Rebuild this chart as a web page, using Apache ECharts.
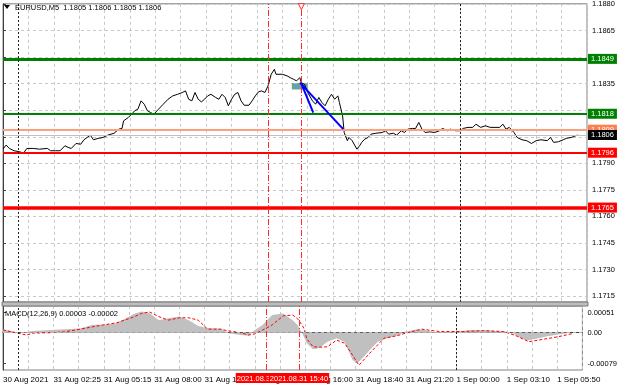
<!DOCTYPE html>
<html><head><meta charset="utf-8">
<script src="https://cdn.jsdelivr.net/npm/echarts@6/dist/echarts.min.js"></script>
<style>html,body{margin:0;padding:0;background:#fff}#c{width:620px;height:388px}</style>
</head><body><div id="c"></div>
<script>
// ---- data (x = 5-minute bar index from chart start) ----
const priceBars = [0,2,4,7,10,13,15,19,23,28,30,33,36,39,41,43,46,49,51,53,55,57,60,63,66,70,71,73,75,76,79,81,83,85,87,89,91,93,95,98,101,104,107,110,113,115,117,119,121,123,125,127,129,131,134,136,138,140,142,144,146,148,150,152,155,157,159,161,163,165,167,169,171,172,176,179,181,183,185,187,188,190,192,195,197,199,201,203,205,207,209,211,212,214,215,217,218,220,223,225,226,228,230,232,235,239,241,243,246,248,251,253,255,258,260,262,264,266,269,272,275,277,280,282,285,288,290,293,296,298,301,304,307,310,313,315,317,319,322,324,327,330,333,336,339,343,345,347,350,353,355,358,360,362];
const priceValues = [1.17981,1.18003,1.17984,1.17971,1.17966,1.17958,1.17984,1.17984,1.17980,1.17984,1.17971,1.17971,1.17971,1.17999,1.17990,1.17984,1.18012,1.18008,1.18033,1.18046,1.18059,1.18033,1.18041,1.18046,1.18059,1.18070,1.18059,1.18093,1.18097,1.18140,1.18159,1.18177,1.18197,1.18206,1.18253,1.18234,1.18197,1.18187,1.18177,1.18206,1.18234,1.18262,1.18281,1.18290,1.18300,1.18309,1.18262,1.18253,1.18300,1.18262,1.18247,1.18262,1.18281,1.18290,1.18272,1.18262,1.18290,1.18272,1.18225,1.18262,1.18290,1.18300,1.18253,1.18228,1.18228,1.18253,1.18281,1.18304,1.18309,1.18300,1.18337,1.18403,1.18431,1.18403,1.18403,1.18394,1.18384,1.18375,1.18366,1.18384,1.18356,1.18346,1.18300,1.18253,1.18234,1.18272,1.18243,1.18225,1.18262,1.18290,1.18262,1.18281,1.18243,1.18168,1.18074,1.18028,1.18046,1.18028,1.17980,1.18003,1.18018,1.18037,1.18046,1.18065,1.18070,1.18074,1.18084,1.18065,1.18070,1.18059,1.18084,1.18074,1.18093,1.18097,1.18097,1.18131,1.18093,1.18074,1.18078,1.18074,1.18084,1.18097,1.18084,1.18093,1.18084,1.18084,1.18097,1.18103,1.18103,1.18121,1.18103,1.18112,1.18103,1.18103,1.18103,1.18121,1.18093,1.18103,1.18074,1.18046,1.18033,1.18028,1.18012,1.18028,1.18033,1.18028,1.18046,1.18018,1.18022,1.18033,1.18041,1.18046,1.18052,1.18060];

const macdBars = [0,11,19,30,39,49,57,64,72,78,83,88,93,99,105,112,118,124,130,138,144,151,156,160,165,171,178,184,187,190,193,197,201,206,212,217,222,225,229,233,238,244,250,256,263,268,273,282,289,297,306,313,319,324,329,333,338,345,351,357,362];
const macdValues = [0.00009,-0.00001,0.00004,0.00007,0.00009,0.00011,0.00020,0.00020,0.00024,0.00037,0.00048,0.00054,0.00050,0.00032,0.00037,0.00041,0.00032,0.00017,0.00012,0.00011,-0.00002,-0.00006,-0.00008,0.00007,0.00020,0.00045,0.00049,0.00032,0.00020,-0.00001,-0.00027,-0.00042,-0.00039,-0.00023,-0.00014,-0.00024,-0.00070,-0.00078,-0.00062,-0.00044,-0.00023,-0.00014,-0.00008,0.00003,0.00009,0.00007,0.00002,0.00002,0.00003,0.00007,0.00007,0.00004,0.00003,-0.00002,-0.00014,-0.00020,-0.00016,-0.00010,-0.00006,-0.00002,0.00003];

const signalBars = [0,15,19,30,39,49,57,64,72,83,88,93,99,105,112,118,124,130,138,144,151,156,160,165,171,178,184,187,189,191,193,197,201,206,212,217,222,226,229,233,238,242,250,256,266,277,292,305,318,326,334,343,353,362];
const signalValues = [0.00007,-0.00006,-0.00001,0,0.00002,0.00009,0.00015,0.00020,0.00025,0.00040,0.00049,0.00053,0.00041,0.00032,0.00038,0.00038,0.00032,0.00009,0.00009,0.00004,0,-0.00006,-0.00003,0.00007,0.00020,0.00043,0.00045,0.00036,0.00025,0.00012,-0.00016,-0.00036,-0.00037,-0.00036,-0.00019,-0.00027,-0.00057,-0.00083,-0.00070,-0.00052,-0.00031,-0.00014,-0.00008,-0.00001,0.00009,0.00003,0.00003,0.00005,0.00003,-0.00008,-0.00023,-0.00017,-0.00010,-0.00002];

const priceTicks = [1.1715,1.1730,1.1745,1.1760,1.1775,1.1790,1.1805,1.1820,1.1835,1.1850,1.1865,1.1880];
const priceTickLabels = [1.1715,1.1730,1.1745,1.1760,1.1775,1.1790,1.1835,1.1865,1.1880];
const macdTicks = [-0.00079,0,0.00051];
const timeLabelBars = [0,32,64,96,128,160,192,224,256,288,320,352];
const timeLabelTexts = ['30 Aug 2021','31 Aug 02:25','31 Aug 05:15','31 Aug 08:00','31 Aug 10:45','31 Aug 13:25','31 Aug 16:00','31 Aug 18:40','31 Aug 21:20','1 Sep 00:00','1 Sep 03:10','1 Sep 05:50'];

const supportResistance = [1.1849,1.1818,1.1809,1.1796,1.1765];
const currentPrice = 1.1806;
const eventBars = [167,188];
const eventTexts = ['2021.08.31 13:55','2021.08.31 15:40'];
const separatorBars = [9.5,288];
const trendLineA = [[188.2,1.18346],[195.5,1.18187]];
const trendLineB = [[187.1,1.18356],[214.4,1.18093]];
const boxBars = [182,192];
const boxPrices = [1.18352,1.18317];
const headerText = 'EURUSD,M5  1.1805 1.1806 1.1805 1.1806';
const macdText = 'MACD(12,26,9) 0.00003 -0.00002';

// ---- styles ----
const FONT = '"Liberation Sans", Arial, sans-serif';
const levelStyles = [
  {line:'#008000', width:3, bg:'#008000'},
  {line:'#008000', width:2, bg:'#008000'},
  {line:'#ff9f7f', width:2, bg:'#ff7f50'},
  {line:'#ff0000', width:2, bg:'#ff0000'},
  {line:'#ff0000', width:3.5, bg:'#ff0000'}
];
const pairs = (xs, ys) => xs.map((x, i) => [x, ys[i]]);
const gridLine = {show:true, lineStyle:{color:'#c8c8c8', type:[3,3], width:1}};
const tagLabel = (txt, bg) => ({show:true, position:'end', formatter:txt, backgroundColor:bg, color:'#fff',
  padding:[1,3,0,3], lineHeight:9, fontSize:7.5, fontFamily:FONT, distance:1});

const priceMarkLines = supportResistance.map((v, i) => ({
  yAxis:v, lineStyle:{color:levelStyles[i].line, width:levelStyles[i].width, type:'solid'},
  label:tagLabel(v.toFixed(4), levelStyles[i].bg)
}));
priceMarkLines.push({yAxis:currentPrice, lineStyle:{color:'#c0c0c0', width:1, type:'solid'},
  label:tagLabel(currentPrice.toFixed(4), '#000000')});
eventBars.forEach(b => priceMarkLines.push({xAxis:b, lineStyle:{color:'#ff2a2a', width:1, type:[6,2,1,2]}, label:{show:false}}));
separatorBars.forEach(b => priceMarkLines.push({xAxis:b, lineStyle:{color:'#222', width:1, type:[2,2]}, label:{show:false}}));

const macdMarkLines = [{yAxis:0, lineStyle:{color:'#b8b8b8', width:1, type:[3,3]}, label:{show:false}}];
separatorBars.forEach(b => macdMarkLines.push({xAxis:b, lineStyle:{color:'#222', width:1, type:[2,2]}, label:{show:false}}));
eventBars.forEach((b, i) => macdMarkLines.push({xAxis:b, lineStyle:{color:'#ff2a2a', width:1, type:[6,2,1,2]},
  label:{show:true, position:'start', formatter:eventTexts[i], backgroundColor:'#ff0000', color:'#fff',
    padding:[1,1,0,1], lineHeight:9, fontSize:7.5, fontFamily:FONT, distance:3}}));

const chart = echarts.init(document.getElementById('c'), null, {renderer:'canvas'});
chart.setOption({
  animation:false,
  backgroundColor:'#ffffff',
  grid:[
    {left:3, top:3, width:584, height:299, show:true, borderColor:'#808080', borderWidth:1},
    {left:3, top:306, width:584, height:64, show:true, borderColor:'#808080', borderWidth:1}
  ],
  xAxis:[
    {gridIndex:0, type:'value', min:0, max:368, interval:16, axisLine:{show:false}, axisTick:{show:false},
     axisLabel:{show:false}, splitLine:gridLine},
    {gridIndex:1, type:'value', min:0, max:368, interval:16, axisLine:{show:true, lineStyle:{color:'#404040'}},
     axisTick:{show:false}, splitLine:gridLine,
     axisLabel:{show:true, interval:0, align:'left', margin:6, color:'#000', fontSize:8, fontFamily:FONT,
       hideOverlap:false, showMinLabel:true, showMaxLabel:true,
       formatter:v => { const i = timeLabelBars.indexOf(v); return i >= 0 ? timeLabelTexts[i] : ''; }}}
  ],
  yAxis:[
    {gridIndex:0, type:'value', position:'right', min:1.171166, max:1.188011, scale:true,
     axisLine:{show:true, lineStyle:{color:'#404040'}},
     axisTick:{show:true, length:3, customValues:priceTicks, lineStyle:{color:'#404040'}},
     axisLabel:{customValues:priceTickLabels, formatter:v => v.toFixed(4), margin:5, color:'#000', fontSize:7.5, fontFamily:FONT},
     splitLine:gridLine},
    {gridIndex:1, type:'value', position:'right', min:-0.000952, max:0.000681,
     axisLine:{show:true, lineStyle:{color:'#404040'}},
     axisTick:{show:true, length:3, customValues:macdTicks, lineStyle:{color:'#404040'}},
     axisLabel:{customValues:macdTicks, formatter:v => v === 0 ? '0.00' : v.toFixed(5), margin:5, color:'#000', fontSize:7.5, fontFamily:FONT},
     splitLine:{show:false}}
  ],
  series:[
    {type:'line', xAxisIndex:0, yAxisIndex:0, data:pairs(priceBars, priceValues), showSymbol:false, z:4,
     lineStyle:{color:'#000', width:1}, itemStyle:{color:'#000'},
     markLine:{silent:true, symbol:['none','none'], precision:6, animation:false, data:priceMarkLines},
     markPoint:{silent:true, symbol:'triangle', symbolRotate:180, symbolSize:[6,6],
       itemStyle:{color:'#ffffff', borderColor:'#ff2a2a', borderWidth:1},
       label:{show:false}, data:[{coord:[eventBars[1], 1.18785]}]},
     markArea:{silent:true, itemStyle:{color:'rgba(80,145,145,0.85)'},
       data:[[{coord:[boxBars[0], boxPrices[0]]},{coord:[boxBars[1], boxPrices[1]]}]]}},
    {type:'line', xAxisIndex:0, yAxisIndex:0, data:trendLineA, showSymbol:false, z:5, lineStyle:{color:'#0000ff', width:2}},
    {type:'line', xAxisIndex:0, yAxisIndex:0, data:trendLineB, showSymbol:false, z:5, lineStyle:{color:'#0000ff', width:2}},
    {type:'line', xAxisIndex:1, yAxisIndex:1, data:pairs(macdBars, macdValues), showSymbol:false, z:2,
     lineStyle:{width:0, color:'#c0c0c0'}, itemStyle:{color:'#c0c0c0'}, areaStyle:{color:'#c0c0c0', opacity:1},
     markLine:{silent:true, symbol:['none','none'], precision:6, animation:false, data:macdMarkLines}},
    {type:'line', xAxisIndex:1, yAxisIndex:1, data:pairs(signalBars, signalValues), showSymbol:false, z:3,
     lineStyle:{color:'#ff0000', width:1, type:[3,2]}, itemStyle:{color:'#ff0000'}}
  ],
  graphic:[
    {type:'rect', shape:{x:2, y:302, width:586, height:4}, style:{fill:'#bdbdbd', stroke:'#7a7a7a', lineWidth:1}, z:10},
    {type:'polygon', shape:{points:[[4,5],[10,5],[7,9]]}, style:{fill:'#000'}, z:10},
    {type:'text', x:15, y:8, style:{text:headerText, fill:'#000', font:'7.5px ' + FONT, verticalAlign:'middle'}, z:10},
    {type:'text', x:5, y:314, style:{text:macdText, fill:'#000', font:'7.5px ' + FONT, verticalAlign:'middle'}, z:10}
  ]
});
</script></body></html>
